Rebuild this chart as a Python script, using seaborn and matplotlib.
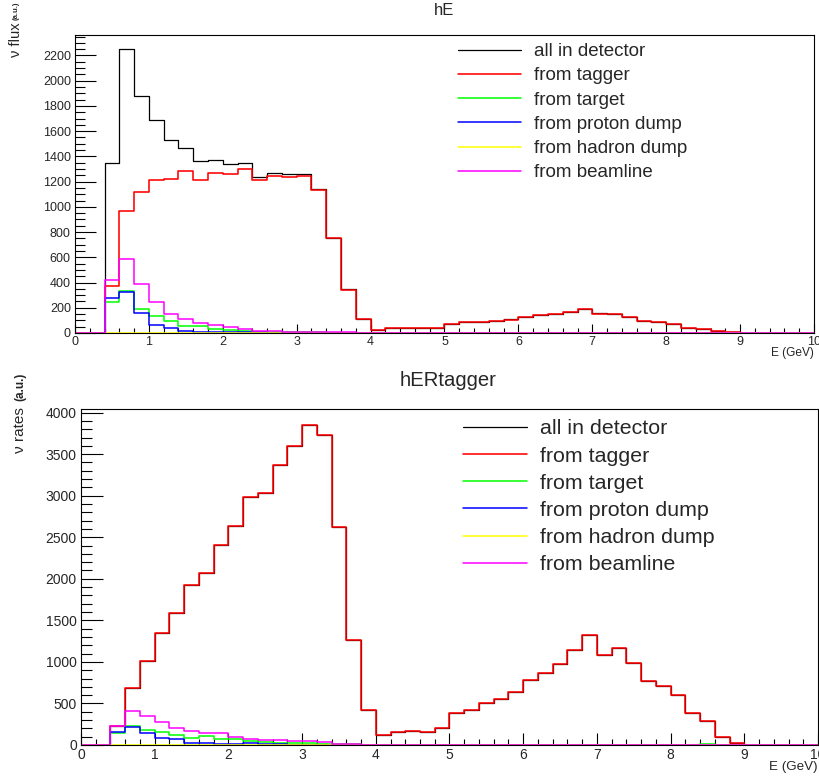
import numpy as np
import pandas as pd
import matplotlib
matplotlib.use("Agg")
import matplotlib.pyplot as plt
from matplotlib.ticker import MultipleLocator
import seaborn as sns

# 50 bins of 0.2 GeV between 0 and 10 GeV
bin_edges = np.linspace(0.0, 10.0, 51)
bin_centers = 0.5 * (bin_edges[:-1] + bin_edges[1:])

series_labels = ["all in detector", "from tagger", "from target",
                 "from proton dump", "from hadron dump", "from beamline"]
series_colors = ["#000000", "#ff0000", "#00ff00", "#0000ff", "#ffff00", "#ff00ff"]
series_widths = [0.9, 1.15, 1.1, 1.1, 1.1, 1.1]

# ---- hE : neutrino flux per origin ----
hE_all = [0, 0, 1347, 2250, 1880, 1690, 1527, 1463, 1365, 1373,
          1336, 1344, 1236, 1268, 1262, 1262, 1141, 750, 349, 111,
          26, 40, 36, 36, 42, 74, 85, 90, 98, 111,
          124, 145, 153, 169, 193, 156, 153, 124, 92, 85,
          71, 42, 32, 16, 8, 0, 0, 0, 0, 0]
hE_tagger = [0, 0, 375, 967, 1117, 1215, 1223, 1284, 1215, 1270,
             1260, 1299, 1210, 1247, 1236, 1247, 1136, 750, 343, 111,
             26, 40, 36, 36, 42, 74, 85, 90, 98, 103,
             124, 140, 153, 169, 193, 150, 153, 124, 92, 85,
             71, 42, 32, 16, 8, 0, 0, 0, 0, 0]
hE_target = [0, 0, 246, 335, 190, 137, 98, 53, 58, 32,
             26, 16, 10, 8, 6, 5, 4, 2, 1, 0,
             0, 0, 0, 0, 0, 0, 0, 0, 0, 0,
             0, 0, 0, 0, 0, 0, 0, 0, 0, 0,
             0, 0, 0, 0, 0, 0, 0, 0, 0, 0]
hE_proton_dump = [0, 0, 277, 325, 158, 66, 42, 16, 10, 8,
                  6, 5, 4, 3, 2, 2, 1, 1, 0, 0,
                  0, 0, 0, 0, 0, 0, 0, 0, 0, 0,
                  0, 0, 0, 0, 0, 0, 0, 0, 0, 0,
                  0, 0, 0, 0, 0, 0, 0, 0, 0, 0]
hE_hadron_dump = [0] * 50
hE_beamline = [0, 0, 417, 586, 388, 246, 150, 111, 79, 66,
               48, 32, 16, 12, 10, 10, 8, 5, 4, 3,
               2, 1, 1, 0, 0, 0, 0, 0, 0, 0,
               0, 0, 0, 0, 0, 0, 0, 0, 0, 0,
               0, 0, 0, 0, 0, 0, 0, 0, 0, 0]

# ---- hERtagger : neutrino rates per origin ----
hER_tagger = [0, 0, 229, 687, 1009, 1347, 1588, 1926, 2070, 2404,
              2641, 2987, 3027, 3365, 3598, 3851, 3735, 2625, 1266, 422,
              117, 157, 173, 157, 209, 390, 426, 510, 555, 643,
              784, 864, 973, 1138, 1319, 1085, 1166, 981, 772, 712,
              607, 390, 289, 100, 28, 0, 0, 0, 0, 0]
hER_all = list(hER_tagger)
hER_target = [0, 0, 145, 233, 181, 157, 125, 88, 105, 68,
              68, 48, 40, 28, 28, 28, 12, 12, 8, 4,
              2, 0, 0, 0, 0, 0, 0, 0, 0, 0,
              0, 0, 0, 0, 0, 0, 0, 0, 0, 0,
              0, 0, 8, 0, 0, 0, 0, 0, 0, 0]
hER_proton_dump = [0, 0, 153, 221, 141, 80, 68, 28, 28, 12,
                   12, 28, 10, 8, 6, 6, 4, 3, 2, 1,
                   0, 0, 0, 0, 0, 0, 0, 0, 0, 0,
                   0, 0, 0, 0, 0, 0, 0, 0, 0, 0,
                   0, 0, 0, 0, 0, 0, 0, 0, 0, 0]
hER_hadron_dump = [0] * 50
hER_beamline = [0, 0, 233, 414, 350, 273, 205, 169, 141, 141,
                100, 68, 56, 56, 52, 52, 32, 12, 8, 5,
                4, 3, 2, 2, 1, 1, 0, 0, 0, 0,
                0, 0, 0, 0, 0, 0, 0, 0, 0, 0,
                0, 0, 0, 0, 0, 0, 0, 0, 0, 0]

sns.set_style("ticks")
plt.rcParams["font.family"] = ["Liberation Sans", "DejaVu Sans"]

W, H = 820, 778
fig = plt.figure(figsize=(W / 100, H / 100), dpi=100)


def px_axes(left, top, right, bottom):
    return fig.add_axes([left / W, 1 - bottom / H, (right - left) / W, (bottom - top) / H])


def draw_panel(ax, series, ymajor, yminor, tick_fs, ymaj_len, ymin_len, xmaj_len, xmin_len):
    for values, label, color, lw in zip(series, series_labels, series_colors, series_widths):
        df = pd.DataFrame({"E": bin_centers, "w": values})
        sns.histplot(data=df, x="E", weights="w", binwidth=0.2, binrange=(0.0, 10.0),
                     element="step", fill=False, color=color, linewidth=lw,
                     label=label, ax=ax)
    ymax = 1.05 * max(max(s) for s in series)
    ax.set_xlim(0, 10)
    ax.set_ylim(0, ymax)
    ax.set_xlabel("")
    ax.set_ylabel("")
    ax.xaxis.set_major_locator(MultipleLocator(1))
    ax.xaxis.set_minor_locator(MultipleLocator(0.2))
    ax.yaxis.set_major_locator(MultipleLocator(ymajor))
    ax.yaxis.set_minor_locator(MultipleLocator(yminor))
    ax.tick_params(which="both", direction="in", top=False, right=False,
                   labelsize=tick_fs, color="black", width=0.8)
    ax.tick_params(axis="y", which="major", length=ymaj_len, pad=3)
    ax.tick_params(axis="y", which="minor", length=ymin_len)
    ax.tick_params(axis="x", which="major", length=xmaj_len, pad=2)
    ax.tick_params(axis="x", which="minor", length=xmin_len)
    for sp in ax.spines.values():
        sp.set_visible(True)
        sp.set_color("black")
        sp.set_linewidth(0.8)


# upper panel
ax1 = px_axes(75, 35, 814, 333)
draw_panel(ax1, [hE_all, hE_tagger, hE_target, hE_proton_dump, hE_hadron_dump, hE_beamline],
           200, 50, 9, 15, 7.5, 6.5, 3.6)
ax1.legend(loc="upper left", bbox_to_anchor=(458 / W, 1 - 43 / H), bbox_transform=fig.transFigure,
           frameon=False, fontsize=13.5, handlelength=3.35, handletextpad=0.7,
           labelspacing=0.38, borderpad=0, borderaxespad=0)
fig.text(444 / W, 1 - 15 / H, "hE", ha="center", va="baseline", fontsize=12)
fig.text(814 / W, 1 - 347 / H, "E (GeV)", ha="right", va="top", fontsize=8.6)
fig.text(16 / W, 1 - 2 / H, "(a.u.)", rotation=90, ha="center", va="top", fontsize=5.5, fontweight="bold")
fig.text(16 / W, 1 - 22 / H, "ν flux", rotation=90, ha="center", va="top", fontsize=10.5)

# lower panel
ax2 = px_axes(81, 409, 818, 745)
draw_panel(ax2, [hER_all, hER_tagger, hER_target, hER_proton_dump, hER_hadron_dump, hER_beamline],
           500, 100, 10, 16, 8, 8.6, 4.3)
ax2.legend(loc="upper left", bbox_to_anchor=(463 / W, 1 - 419.5 / H), bbox_transform=fig.transFigure,
           frameon=False, fontsize=15.4, handlelength=3.0, handletextpad=0.6,
           labelspacing=0.38, borderpad=0, borderaxespad=0)
fig.text(448 / W, 1 - 386 / H, "hERtagger", ha="center", va="baseline", fontsize=14.6)
fig.text(818 / W, 1 - 761 / H, "E (GeV)", ha="right", va="top", fontsize=9.6)
fig.text(20 / W, 1 - 373 / H, "(a.u.)", rotation=90, ha="center", va="top", fontsize=8.5, fontweight="bold")
fig.text(20 / W, 1 - 407 / H, "ν rates", rotation=90, ha="center", va="top", fontsize=11)

fig.savefig("out.png", dpi=100)
